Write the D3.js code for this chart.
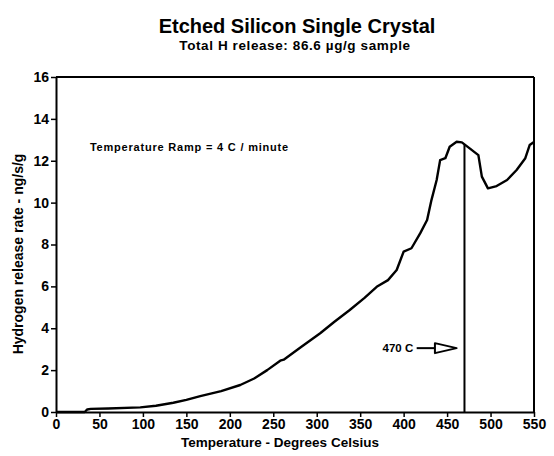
<!DOCTYPE html>
<html>
<head>
<meta charset="utf-8">
<script src="https://cdn.jsdelivr.net/npm/d3@7"></script>
<style>
  html, body { margin: 0; padding: 0; background: #fff; }
  svg { display: block; }
  text { font-family: "Liberation Sans", Arial, sans-serif; fill: #000; }
</style>
</head>
<body>
<svg id="chart" width="554" height="456"></svg>
<script>
// ---- Data ----
const temperature = [0, 33, 36, 40, 60, 97, 115, 135, 150, 166, 190, 212, 228, 243, 258, 262, 282, 304, 320, 338, 355, 369, 382, 392, 400, 409, 419, 427, 432, 438, 442, 448, 453, 461, 467, 476, 486, 490, 497, 507, 519, 530, 540, 545, 550];
const releaseRate = [0, 0, 0.12, 0.15, 0.17, 0.22, 0.30, 0.44, 0.58, 0.76, 1.0, 1.29, 1.6, 2.0, 2.45, 2.5, 3.1, 3.76, 4.3, 4.87, 5.45, 5.98, 6.30, 6.78, 7.66, 7.82, 8.53, 9.17, 10.12, 11.08, 12.03, 12.12, 12.67, 12.91, 12.88, 12.59, 12.27, 11.24, 10.68, 10.79, 11.08, 11.56, 12.12, 12.75, 12.9];
const xTicks = [0, 50, 100, 150, 200, 250, 300, 350, 400, 450, 500, 550];
const yTicks = [0, 2, 4, 6, 8, 10, 12, 14, 16];
const markerTemp = 470;
const titleText = "Etched Silicon Single Crystal";
const subtitleText = "Total H release: 86.6 \u00b5g/g sample";
const xLabel = "Temperature - Degrees Celsius";
const yLabel = "Hydrogen release rate - ng/s/g";
const rampNote = "Temperature Ramp = 4 C / minute";
const markerNote = "470 C";

// ---- Layout ----
const svg = d3.select("#chart");
const pLeft = 56, pRight = 534, pTop = 77, pBottom = 412;
const x = d3.scaleLinear().domain([0, 550]).range([pLeft, pRight]);
const y = d3.scaleLinear().domain([0, 16]).range([pBottom, pTop]);

// Titles
svg.append("text").attr("x", 297).attr("y", 33).attr("text-anchor", "middle")
  .style("font-size", "20px").style("font-weight", "bold").text(titleText);
svg.append("text").attr("x", 295).attr("y", 50).attr("text-anchor", "middle")
  .style("font-size", "13.5px").style("font-weight", "bold").style("letter-spacing", "0.6px").text(subtitleText);

// Frame (top and right)
svg.append("line").attr("x1", pLeft).attr("x2", pRight).attr("y1", pTop).attr("y2", pTop)
  .attr("stroke", "#000").attr("stroke-width", 2);
svg.append("line").attr("x1", pRight).attr("x2", pRight).attr("y1", pTop).attr("y2", pBottom)
  .attr("stroke", "#000").attr("stroke-width", 2);

// Axes
const xAxis = svg.append("g").attr("transform", `translate(0,${pBottom})`)
  .call(d3.axisBottom(x).tickValues(xTicks).tickSize(5).tickPadding(2).tickSizeOuter(0));
const yAxis = svg.append("g").attr("transform", `translate(${pLeft},0)`)
  .call(d3.axisLeft(y).tickValues(yTicks).tickSize(5).tickPadding(2).tickSizeOuter(0));
[xAxis, yAxis].forEach(g => {
  g.select(".domain").attr("stroke", "#000").attr("stroke-width", 2);
  g.selectAll(".tick line").attr("stroke", "#000").attr("stroke-width", 1.5);
  g.selectAll(".tick text").style("font-family", "'Liberation Sans', Arial, sans-serif")
    .style("font-size", "14px").style("font-weight", "bold").attr("fill", "#000");
});

// Axis labels
svg.append("text").attr("x", 280).attr("y", 447).attr("text-anchor", "middle")
  .style("font-size", "13.5px").style("font-weight", "bold").text(xLabel);
svg.append("text").attr("transform", "translate(23,254) rotate(-90)").attr("text-anchor", "middle")
  .style("font-size", "14px").style("font-weight", "bold").text(yLabel);

// Data line
const pts = temperature.map((t, i) => [t, releaseRate[i]]);
svg.append("path").datum(pts)
  .attr("fill", "none").attr("stroke", "#000").attr("stroke-width", 2.4)
  .attr("stroke-linejoin", "round")
  .attr("d", d3.line().x(d => x(d[0])).y(d => y(d[1])));

// 470 C marker line
const markerVal = d3.scaleLinear().domain(temperature).range(releaseRate)(markerTemp);
svg.append("line").attr("x1", x(markerTemp)).attr("x2", x(markerTemp))
  .attr("y1", y(markerVal)).attr("y2", pBottom)
  .attr("stroke", "#000").attr("stroke-width", 2);

// Ramp note
svg.append("text").attr("x", x(39)).attr("y", y(12.45))
  .style("font-size", "11px").style("font-weight", "bold").style("letter-spacing", "0.8px").text(rampNote);

// 470 C note with hollow arrow
const ay = y(3.05);
svg.append("text").attr("x", x(411)).attr("y", ay + 4).attr("text-anchor", "end")
  .style("font-size", "11.5px").style("font-weight", "bold").text(markerNote);
svg.append("line").attr("x1", x(415)).attr("x2", x(436)).attr("y1", ay).attr("y2", ay)
  .attr("stroke", "#000").attr("stroke-width", 2);
svg.append("path")
  .attr("d", `M${x(436)},${ay - 5} L${x(461)},${ay} L${x(436)},${ay + 5} Z`)
  .attr("fill", "#fff").attr("stroke", "#000").attr("stroke-width", 2).attr("stroke-linejoin", "round");
</script>
</body>
</html>
